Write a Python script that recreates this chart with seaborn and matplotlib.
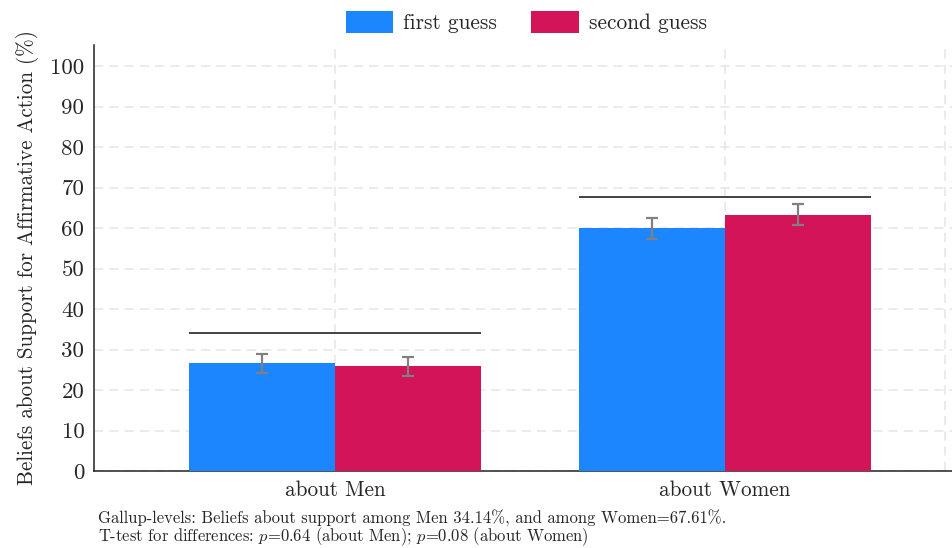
import matplotlib
matplotlib.use("Agg")
import matplotlib.pyplot as plt
import seaborn as sns
import pandas as pd
import numpy as np

# Survey results: beliefs about support for affirmative action
groups = ["about Men", "about Women"]
guesses = ["first guess", "second guess"]
first_guess = [26.6, 59.9]
second_guess = [25.9, 63.3]
first_ci = [2.3, 2.7]
second_ci = [2.35, 2.6]
gallup_levels = [34.14, 67.61]
y_ticks = [0, 10, 20, 30, 40, 50, 60, 70, 80, 90, 100]

colors = {"first guess": "#1c86fe", "second guess": "#d41459"}

sns.set_style("white")
plt.rcParams["font.family"] = ["cmr10", "DejaVu Serif"]
plt.rcParams["mathtext.fontset"] = "cm"
plt.rcParams["axes.formatter.use_mathtext"] = True

df = pd.DataFrame({
    "group": groups * 2,
    "guess": [guesses[0]] * 2 + [guesses[1]] * 2,
    "value": first_guess + second_guess,
    "ci": first_ci + second_ci,
})

fig = plt.figure(figsize=(9.52, 5.48), dpi=100)
ax = fig.add_axes([94 / 952, 1 - 471 / 548, (952 - 94) / 952, (471 - 45) / 548])

sns.barplot(data=df, x="group", y="value", hue="guess", order=groups,
            hue_order=guesses, palette=colors, width=0.75, gap=0,
            errorbar=None, saturation=1, ax=ax, zorder=3, legend=True,
            linewidth=0, edgecolor="none")

# Error bars at the centre of each bar
for patch in ax.patches:
    h = patch.get_height()
    if h <= 0:
        continue
    xc = patch.get_x() + patch.get_width() / 2
    row = df[np.isclose(df["value"], h)].iloc[0]
    ax.errorbar(xc, h, yerr=row["ci"], fmt="none", ecolor="#808080",
                elinewidth=1.6, capsize=4, capthick=1.6, zorder=4)

# Reference levels spanning each group's bars
bars = [p for p in ax.patches if p.get_height() > 0]
for i, level in enumerate(gallup_levels):
    members = [p for p in bars if abs(p.get_x() + p.get_width() / 2 - i) < 0.5]
    x0 = min(p.get_x() for p in members)
    x1 = max(p.get_x() + p.get_width() for p in members)
    ax.hlines(level, x0, x1, color="#222222", linewidth=1.2, zorder=5)

ax.set_ylim(0, 105.2)
ax.set_xlim(-0.618, 1.582)
ax.set_yticks(y_ticks)
ax.set_yticklabels([str(t) for t in y_ticks])

grid_style = dict(color="#e6e6e6", linestyle=(0, (6, 4)), linewidth=1.1, zorder=0)
ax.grid(axis="y", **grid_style)
ax.grid(axis="x", **grid_style)
ax.axvline(1.564, **grid_style)

for side in ["top", "right"]:
    ax.spines[side].set_visible(False)
for side in ["left", "bottom"]:
    ax.spines[side].set_color("#222222")
    ax.spines[side].set_linewidth(1.1)

ax.tick_params(axis="y", length=5, width=1, color="#222222", labelsize=16.5, pad=2)
ax.tick_params(axis="x", length=0, labelsize=15.3, pad=7)
ax.set_xlabel("")
ax.set_ylabel("Beliefs about Support for Affirmative Action (%)", fontsize=15.2, labelpad=8)

leg = ax.legend(loc="lower center", bbox_to_anchor=(0.504, 0.983), ncol=2, frameon=False,
                fontsize=15.4, handlelength=2.2, handleheight=1.2, columnspacing=1.6,
                handletextpad=0.47)

fig.text(98 / 952, 1 - 518.5 / 548,
         "Gallup-levels: Beliefs about support among Men 34.14%, and among Women=67.61%.",
         fontsize=11.95, va="center", ha="left")
fig.text(98 / 952, 1 - 537 / 548,
         r"T-test for differences: $p$=0.64 (about Men); $p$=0.08 (about Women)",
         fontsize=11.95, va="center", ha="left")

fig.savefig("out.png", dpi=100)
